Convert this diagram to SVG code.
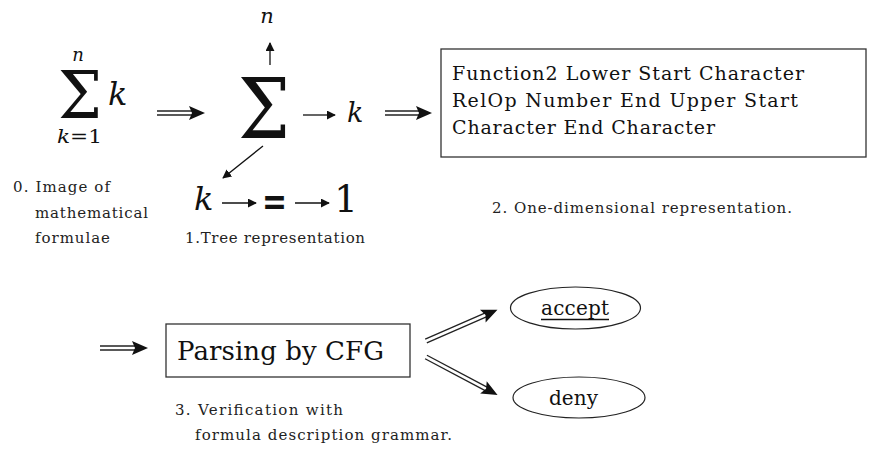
<svg xmlns="http://www.w3.org/2000/svg" width="869" height="449" viewBox="0 0 869 449">
  <style>
    text { font-family: "DejaVu Serif", "Liberation Serif", serif; fill: #111; }
    .it { font-style: italic; }
    .cap { font-size: 15px; fill: #222; }
    .line { stroke: #111; stroke-width: 1.3; fill: none; }
    .dbl { stroke: #222; stroke-width: 1.3; fill: none; }
    .box { fill: #fff; stroke: #333; stroke-width: 1.3; }
  </style>
  <defs>
    <marker id="head" viewBox="0 0 10 10" refX="9" refY="5" markerWidth="9" markerHeight="9" markerUnits="userSpaceOnUse" orient="auto">
      <path d="M0,0 L10,5 L0,10 z" fill="#111"/>
    </marker>
    <!-- filled head for the double-shaft arrows -->
    <path id="bighead" d="M0,0 L-16,-7 L-13,0 L-16,7 z" fill="#111"/>
  </defs>

  <rect width="869" height="449" fill="#fff"/>

  <!-- 0. formula image -->
  <g id="formula">
    <text x="58" y="118" font-size="66" textLength="44" lengthAdjust="spacingAndGlyphs">Σ</text>
    <text class="it" x="78" y="61" font-size="18" text-anchor="middle">n</text>
    <text class="it" x="108" y="105" font-size="32">k</text>
    <text x="57" y="143" font-size="19" textLength="45" lengthAdjust="spacingAndGlyphs"><tspan class="it">k</tspan>=1</text>
    <text class="cap">
      <tspan x="13" y="192" textLength="97">0. Image of</tspan>
      <tspan x="35" y="218" textLength="113">mathematical</tspan>
      <tspan x="35" y="243" textLength="75">formulae</tspan>
    </text>
  </g>

  <!-- 1. tree representation -->
  <g id="tree">
    <text x="238" y="138" font-size="84" textLength="52" lengthAdjust="spacingAndGlyphs">Σ</text>
    <text class="it" x="267" y="23" font-size="21" text-anchor="middle">n</text>
    <text class="it" x="347" y="122" font-size="27">k</text>
    <text class="it" x="194" y="210" font-size="32">k</text>
    <text x="262" y="215" font-size="40" font-weight="bold" textLength="25" lengthAdjust="spacingAndGlyphs">=</text>
    <text x="346" y="212" font-size="37" text-anchor="middle">1</text>
    <text class="cap" x="185" y="243" textLength="180">1.Tree representation</text>
  </g>

  <!-- 2. one-dimensional representation -->
  <g id="linear">
    <rect class="box" x="441" y="49" width="425" height="108"/>
    <text font-size="19">
      <tspan x="452" y="80" textLength="352">Function2 Lower Start Character</tspan>
      <tspan x="452" y="107" textLength="346">RelOp Number End Upper Start</tspan>
      <tspan x="452" y="134" textLength="263">Character End Character</tspan>
    </text>
    <text class="cap" x="492" y="213" textLength="300">2. One-dimensional representation.</text>
  </g>

  <!-- 3. parsing -->
  <g id="parser">
    <rect class="box" x="166" y="324" width="244" height="53"/>
    <text x="177" y="360" font-size="26" textLength="207">Parsing by CFG</text>
    <text class="cap">
      <tspan x="175" y="415" textLength="168">3. Verification with</tspan>
      <tspan x="195" y="440" textLength="257">formula description grammar.</tspan>
    </text>
  </g>

  <g id="accept">
    <ellipse cx="575.5" cy="308" rx="65" ry="21" fill="#fff" stroke="#222" stroke-width="1.2"/>
    <text x="541" y="315" font-size="20" textLength="68">accept</text>
    <line x1="541" y1="319.5" x2="609" y2="319.5" stroke="#111" stroke-width="1.3"/>
  </g>

  <g id="deny">
    <ellipse cx="579" cy="397.5" rx="66" ry="20.5" fill="#fff" stroke="#222" stroke-width="1.2"/>
    <text x="549" y="405" font-size="20" textLength="49">deny</text>
  </g>

  <!-- connectors -->
  <g id="connectors">
    <!-- single tree edges -->
    <line class="line" x1="270" y1="65" x2="270" y2="43" marker-end="url(#head)"/>
    <line class="line" x1="303" y1="115" x2="335" y2="115" marker-end="url(#head)"/>
    <line class="line" x1="263" y1="146" x2="223" y2="178" marker-end="url(#head)"/>
    <line class="line" x1="222" y1="203" x2="256" y2="203" marker-end="url(#head)"/>
    <line class="line" x1="295" y1="203" x2="329" y2="203" marker-end="url(#head)"/>

    <!-- double-shaft arrows between stages -->
    <g>
      <line class="dbl" x1="157" y1="111" x2="192" y2="111"/>
      <line class="dbl" x1="157" y1="115" x2="192" y2="115"/>
      <use href="#bighead" transform="translate(205,113)"/>
    </g>
    <g>
      <line class="dbl" x1="385" y1="111" x2="419" y2="111"/>
      <line class="dbl" x1="385" y1="115" x2="419" y2="115"/>
      <use href="#bighead" transform="translate(432,113)"/>
    </g>
    <g>
      <line class="dbl" x1="100" y1="346" x2="135" y2="346"/>
      <line class="dbl" x1="100" y1="350" x2="135" y2="350"/>
      <use href="#bighead" transform="translate(148,348)"/>
    </g>
    <g transform="translate(426,341) rotate(-23.6)">
      <line class="dbl" x1="0" y1="-2" x2="65" y2="-2"/>
      <line class="dbl" x1="0" y1="2" x2="65" y2="2"/>
      <use href="#bighead" transform="translate(78,0)"/>
    </g>
    <g transform="translate(426,357) rotate(27.9)">
      <line class="dbl" x1="0" y1="-2" x2="68" y2="-2"/>
      <line class="dbl" x1="0" y1="2" x2="68" y2="2"/>
      <use href="#bighead" transform="translate(81,0)"/>
    </g>
  </g>
</svg>
